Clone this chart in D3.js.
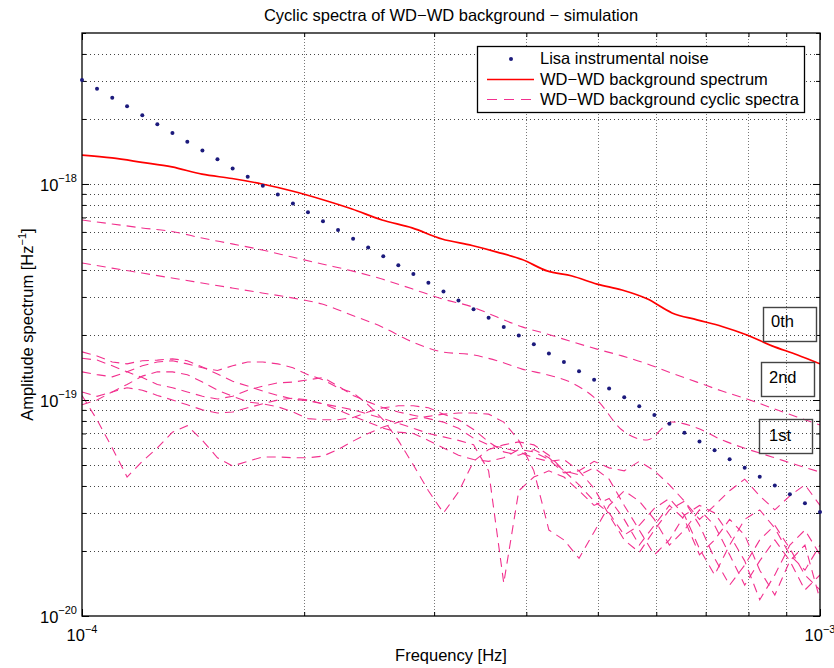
<!DOCTYPE html>
<html><head><meta charset="utf-8">
<script src="https://cdn.jsdelivr.net/npm/d3@7"></script>
<style>
body{margin:0;background:#fff}
text{font-family:"Liberation Sans",Arial,Helvetica,sans-serif;fill:#000}
</style>
</head><body>
<svg id="c" width="834" height="668"></svg>
<script>
// ---------------- data ----------------
const freq = [1.000e-4,1.048e-4,1.099e-4,1.151e-4,1.207e-4,1.265e-4,1.326e-4,1.389e-4,1.456e-4,1.526e-4,
  1.600e-4,1.677e-4,1.758e-4,1.842e-4,1.931e-4,2.024e-4,2.121e-4,2.223e-4,2.330e-4,2.442e-4,
  2.560e-4,2.683e-4,2.812e-4,2.947e-4,3.089e-4,3.237e-4,3.393e-4,3.556e-4,3.728e-4,3.907e-4,
  4.095e-4,4.292e-4,4.498e-4,4.715e-4,4.942e-4,5.179e-4,5.429e-4,5.690e-4,5.964e-4,6.251e-4,
  6.551e-4,6.866e-4,7.197e-4,7.543e-4,7.906e-4,8.286e-4,8.685e-4,9.103e-4,9.541e-4,1.000e-3];
const lisaNoise = [3.03e-18,2.76e-18,2.51e-18,2.29e-18,2.08e-18,1.89e-18,1.72e-18,1.57e-18,1.43e-18,1.30e-18,
  1.18e-18,1.08e-18,9.81e-19,8.93e-19,8.13e-19,7.40e-19,6.73e-19,6.13e-19,5.58e-19,5.08e-19,
  4.63e-19,4.21e-19,3.83e-19,3.49e-19,3.18e-19,2.89e-19,2.63e-19,2.40e-19,2.18e-19,1.99e-19,
  1.81e-19,1.64e-19,1.50e-19,1.36e-19,1.24e-19,1.13e-19,1.03e-19,9.36e-20,8.52e-20,7.76e-20,
  7.06e-20,6.43e-20,5.85e-20,5.32e-20,4.85e-20,4.41e-20,4.02e-20,3.66e-20,3.33e-20,3.03e-20];

const freqSmooth = [1.000e-4,1.098e-4,1.206e-4,1.324e-4,1.454e-4,1.597e-4,1.754e-4,1.926e-4,2.115e-4,2.322e-4,
  2.550e-4,2.801e-4,3.075e-4,3.377e-4,3.651e-4,3.948e-4,4.267e-4,4.613e-4,4.987e-4,5.392e-4,
  5.830e-4,6.302e-4,6.813e-4,7.366e-4,7.963e-4,8.610e-4,9.308e-4,1.000e-3];
const bgSpectrum = [1.36e-18,1.32e-18,1.26e-18,1.20e-18,1.11e-18,1.06e-18,1.00e-18,9.28e-19,8.48e-19,7.66e-19,
  6.81e-19,6.26e-19,5.56e-19,5.19e-19,4.84e-19,4.47e-19,3.96e-19,3.75e-19,3.44e-19,3.23e-19,
  2.94e-19,2.53e-19,2.35e-19,2.19e-19,2.00e-19,1.78e-19,1.62e-19,1.47e-19];
const cyclic0th = [6.81e-19,6.53e-19,6.26e-19,6.03e-19,5.62e-19,5.28e-19,4.95e-19,4.59e-19,4.26e-19,3.96e-19,
  3.63e-19,3.27e-19,2.94e-19,2.70e-19,2.42e-19,2.18e-19,2.02e-19,1.86e-19,1.72e-19,1.60e-19,
  1.47e-19,1.33e-19,1.21e-19,1.10e-19,1.01e-19,9.18e-20,8.34e-20,7.66e-20];
const cyclic2nd = [4.31e-19,4.08e-19,3.87e-19,3.67e-19,3.48e-19,3.30e-19,3.13e-19,2.97e-19,2.78e-19,2.47e-19,
  2.18e-19,1.86e-19,1.67e-19,1.62e-19,1.52e-19,1.39e-19,1.31e-19,1.20e-19,1.00e-19,7.26e-20,
  6.53e-20,7.91e-20,7.42e-20,6.53e-20,5.93e-20,5.45e-20,5.00e-20,4.64e-20];

const cyclic1stA = [1.05e-19,8.1e-20,6.0e-20,4.4e-20,5.2e-20,6.0e-20,7.1e-20,7.6e-20,6.5e-20,5.4e-20,
  4.95e-20,5.2e-20,5.45e-20,5.45e-20,5.4e-20,5.4e-20,5.5e-20,5.9e-20,6.45e-20,7.0e-20,
  7.5e-20,7.9e-20,8.2e-20,8.4e-20,8.6e-20,8.7e-20,8.7e-20,8.6e-20,7.9e-20,6.5e-20,
  4.7e-20,2.5e-20,2.25e-20,1.85e-20,2.45e-20,3.25e-20,3.8e-20,3.4e-20,2.8e-20,2.13e-20,
  2.5e-20,3.1e-20,2.63e-20,1.92e-20,1.39e-20,1.8e-20,2.25e-20,1.8e-20,1.32e-20,1.55e-20];
const cyclic1stB = [1.67e-19,1.6e-19,1.5e-19,1.47e-19,1.52e-19,1.53e-19,1.55e-19,1.52e-19,1.42e-19,1.32e-19,
  1.22e-19,1.16e-19,1.1e-19,1.05e-19,1.01e-19,9.9e-20,9.6e-20,9.3e-20,9.0e-20,8.6e-20,
  8.2e-20,7.8e-20,7.4e-20,7.0e-20,6.75e-20,6.5e-20,6.2e-20,4.7e-20,1.42e-20,3.8e-20,
  4.4e-20,4.7e-20,4.4e-20,3.8e-20,3.25e-20,3.5e-20,2.8e-20,2.13e-20,2.63e-20,3.25e-20,
  2.8e-20,1.92e-20,2.25e-20,2.8e-20,2.37e-20,1.63e-20,1.25e-20,1.8e-20,2.13e-20,1.19e-20];
const cyclic1stC = [1.35e-19,1.31e-19,1.28e-19,1.35e-19,1.44e-19,1.5e-19,1.52e-19,1.47e-19,1.41e-19,1.37e-19,
  1.44e-19,1.5e-19,1.5e-19,1.47e-19,1.41e-19,1.31e-19,1.24e-19,1.14e-19,1.08e-19,9.5e-20,
  8.1e-20,6.5e-20,5.0e-20,3.8e-20,3.0e-20,3.75e-20,5.2e-20,5.9e-20,6.2e-20,6.4e-20,
  6.2e-20,5.55e-20,4.7e-20,4.05e-20,3.4e-20,3.0e-20,2.37e-20,2.63e-20,3.15e-20,3.5e-20,
  2.93e-20,2.05e-20,1.55e-20,2.13e-20,2.8e-20,3.1e-20,2.55e-20,1.92e-20,1.63e-20,2.13e-20];
const cyclic1stD = [1.09e-19,1.04e-19,1.09e-19,1.18e-19,1.29e-19,1.35e-19,1.35e-19,1.31e-19,1.21e-19,1.11e-19,
  1.04e-19,9.8e-20,9.6e-20,9.3e-20,8.8e-20,8.2e-20,8.1e-20,8.1e-20,8.3e-20,8.8e-20,
  9.2e-20,9.4e-20,9.4e-20,9.2e-20,8.6e-20,8.1e-20,7.3e-20,6.4e-20,5.75e-20,5.55e-20,
  5.9e-20,5.4e-20,4.7e-20,4.5e-20,4.85e-20,4.3e-20,3.25e-20,2.5e-20,1.92e-20,2.25e-20,
  2.93e-20,3.25e-20,3.0e-20,2.37e-20,1.8e-20,1.19e-20,1.55e-20,2.13e-20,2.5e-20,1.92e-20];
const cyclic1stE = [1.56e-19,1.53e-19,1.44e-19,1.35e-19,1.27e-19,1.18e-19,1.14e-19,1.09e-19,1.04e-19,1.01e-19,
  1.04e-19,1.11e-19,1.16e-19,1.2e-19,1.21e-19,1.24e-19,1.27e-19,1.16e-19,1.05e-19,9.8e-20,
  9.2e-20,8.8e-20,8.5e-20,8.2e-20,7.9e-20,7.4e-20,6.65e-20,6.2e-20,6.0e-20,5.75e-20,
  5.4e-20,5.2e-20,5.3e-20,4.7e-20,3.9e-20,2.93e-20,2.25e-20,1.97e-20,2.5e-20,3.1e-20,
  3.4e-20,2.63e-20,1.85e-20,1.39e-20,1.72e-20,2.25e-20,2.63e-20,2.05e-20,1.55e-20,1.32e-20];
const cyclic1stF = [9.5e-20,1.0e-19,1.09e-19,1.14e-19,1.11e-19,1.05e-19,1.0e-19,9.5e-20,9.0e-20,8.7e-20,
  8.8e-20,9.2e-20,9.6e-20,1.0e-19,1.02e-19,1.0e-19,9.6e-20,9.0e-20,8.4e-20,7.9e-20,
  7.4e-20,7.1e-20,7.0e-20,6.5e-20,6.0e-20,5.55e-20,5.3e-20,5.2e-20,5.4e-20,5.9e-20,
  5.75e-20,5.3e-20,4.6e-20,4.7e-20,5.2e-20,4.85e-20,4.7e-20,5.2e-20,4.7e-20,4.05e-20,
  3.4e-20,2.8e-20,3.25e-20,3.8e-20,4.3e-20,3.6e-20,3.1e-20,3.6e-20,4.05e-20,3.25e-20];

const xTickValues = [1e-4, 1e-3];
const xTickExponents = ["\u22124", "\u22123"];
const yTickValues = [1e-20, 1e-19, 1e-18];
const yTickExponents = ["\u221220", "\u221219", "\u221218"];
const legendLabels = ["Lisa instrumental noise", "WD\u2212WD background spectrum", "WD\u2212WD background cyclic spectra"];
const orderLabels = ["0th", "2nd", "1st"];
const titleText = "Cyclic spectra of WD\u2212WD background \u2212 simulation";

// ---------------- chart ----------------
const m = {l: 82, r: 820, t: 33, b: 616};
const FS = 16.5;
const svg = d3.select("#c");
const x = d3.scaleLog().domain([1e-4, 1e-3]).range([m.l, m.r]);
const y = d3.scaleLog().domain([1e-20, 5e-18]).range([m.b, m.t]);
const xt = x.ticks(), yt = y.ticks();
const isMajor = v => Math.abs(Math.log10(v) - Math.round(Math.log10(v))) < 1e-6;

svg.append("rect").attr("width", 834).attr("height", 668).attr("fill", "#fff");

// grid
const grid = svg.append("g");
grid.selectAll("line.gv").data(xt.filter(v => v > 1.0001e-4 && v < 0.9999e-3)).join("line")
  .attr("class", "gv")
  .attr("x1", d => Math.round(x(d)) + 0.5).attr("x2", d => Math.round(x(d)) + 0.5)
  .attr("y1", m.t).attr("y2", m.b)
  .attr("stroke", "#777").attr("stroke-width", 1).attr("stroke-dasharray", "1,2");
grid.selectAll("line.gh").data(yt.filter(v => v > 1.0001e-20 && v < 4.999e-18)).join("line")
  .attr("class", "gh")
  .attr("y1", d => Math.round(y(d)) + 0.5).attr("y2", d => Math.round(y(d)) + 0.5)
  .attr("x1", m.l).attr("x2", m.r)
  .attr("stroke", "#444").attr("stroke-width", 1).attr("stroke-dasharray", "1,3");

// clip
svg.append("clipPath").attr("id", "clip").append("rect")
  .attr("x", m.l).attr("y", m.t).attr("width", m.r - m.l).attr("height", m.b - m.t);
const plot = svg.append("g").attr("clip-path", "url(#clip)");

// red background spectrum
const smoothLine = d3.line().x((d, i) => x(freqSmooth[i])).y(d => y(d)).curve(d3.curveMonotoneX);
plot.append("path").datum(bgSpectrum).attr("d", smoothLine)
  .attr("fill", "none").attr("stroke", "#ff0000").attr("stroke-width", 1.7);

// dashed cyclic spectra
const PINK = "#f2308e";
const DASH = "9,6";
[cyclic0th, cyclic2nd].forEach(s => {
  plot.append("path").datum(s).attr("d", smoothLine)
    .attr("fill", "none").attr("stroke", PINK).attr("stroke-width", 1.1).attr("stroke-dasharray", DASH);
});
const fineLine = d3.line().x((d, i) => x(freq[i])).y(d => y(d));
[cyclic1stA, cyclic1stB, cyclic1stC, cyclic1stD, cyclic1stE, cyclic1stF].forEach(s => {
  plot.append("path").datum(s).attr("d", fineLine)
    .attr("fill", "none").attr("stroke", PINK).attr("stroke-width", 1.1).attr("stroke-dasharray", DASH);
});

// axes (inward ticks on all four sides)
function mkAxis(gen, tr, attr, sign) {
  const g = svg.append("g").attr("transform", tr).call(gen);
  g.select(".domain").remove();
  g.selectAll("text").remove();
  g.selectAll(".tick line").attr("stroke", "#000").attr("stroke-width", 1)
    .attr(attr, d => sign * (isMajor(d) ? 7 : 4));
  return g;
}
mkAxis(d3.axisBottom(x).tickValues(xt).tickSizeOuter(0).tickFormat(""), `translate(0,${m.b})`, "y2", -1);
mkAxis(d3.axisTop(x).tickValues(xt).tickSizeOuter(0).tickFormat(""), `translate(0,${m.t})`, "y2", 1);
mkAxis(d3.axisLeft(y).tickValues(yt).tickSizeOuter(0).tickFormat(""), `translate(${m.l},0)`, "x2", 1);
mkAxis(d3.axisRight(y).tickValues(yt).tickSizeOuter(0).tickFormat(""), `translate(${m.r},0)`, "x2", -1);

// box
svg.append("rect").attr("x", m.l).attr("y", m.t).attr("width", m.r - m.l).attr("height", m.b - m.t)
  .attr("fill", "none").attr("stroke", "#000").attr("stroke-width", 1.3);

// Lisa noise dots (not clipped, drawn fully at the plot edges)
svg.append("g").selectAll("circle.noise").data(lisaNoise).join("circle")
  .attr("class", "noise")
  .attr("cx", (d, i) => x(freq[i])).attr("cy", d => y(d)).attr("r", 2)
  .attr("fill", "#1c1a7c");

// tick labels
xTickValues.forEach((v, i) => {
  const t = svg.append("text").attr("x", x(v)).attr("y", 641).attr("text-anchor", "middle").attr("font-size", FS);
  t.append("tspan").text("10");
  t.append("tspan").attr("dy", -8).attr("font-size", 11).text(xTickExponents[i]);
});
yTickValues.forEach((v, i) => {
  const t = svg.append("text").attr("x", 77).attr("y", y(v) + 7).attr("text-anchor", "end").attr("font-size", FS);
  t.append("tspan").text("10");
  t.append("tspan").attr("dy", -9).attr("font-size", 11).text(yTickExponents[i]);
});

// title and axis labels
svg.append("text").attr("x", (m.l + m.r) / 2).attr("y", 21).attr("text-anchor", "middle")
  .attr("font-size", FS).text(titleText);
svg.append("text").attr("x", (m.l + m.r) / 2).attr("y", 661).attr("text-anchor", "middle")
  .attr("font-size", FS).text("Frequency [Hz]");
const yl = svg.append("text").attr("transform", `translate(33,${(m.t + m.b) / 2}) rotate(-90)`)
  .attr("text-anchor", "middle").attr("font-size", FS);
yl.append("tspan").text("Amplitude spectrum [Hz");
yl.append("tspan").attr("dy", -7).attr("font-size", 11).text("\u22121");
yl.append("tspan").attr("dy", 7).text("]");

// legend
const lg = svg.append("g");
lg.append("rect").attr("x", 477.5).attr("y", 46.5).attr("width", 327).attr("height", 66)
  .attr("fill", "#fff").attr("stroke", "#000").attr("stroke-width", 1.3);
const rows = [64, 84.5, 105];
lg.append("circle").attr("cx", 511).attr("cy", 59).attr("r", 2).attr("fill", "#1c1a7c");
lg.append("line").attr("x1", 487).attr("x2", 534).attr("y1", 79.5).attr("y2", 79.5)
  .attr("stroke", "#ff0000").attr("stroke-width", 1.7);
lg.append("line").attr("x1", 487).attr("x2", 531).attr("y1", 99.5).attr("y2", 99.5)
  .attr("stroke", PINK).attr("stroke-width", 1.1).attr("stroke-dasharray", "10,7");
legendLabels.forEach((s, i) => {
  lg.append("text").attr("x", 540).attr("y", rows[i]).attr("font-size", FS).text(s);
});

// order labels in boxes
const boxes = [{x: 763, y: 307, tx: 771, ty: 327}, {x: 761, y: 362, tx: 769, ty: 383}, {x: 759, y: 419, tx: 769, ty: 441}];
orderLabels.forEach((s, i) => {
  const b = boxes[i];
  svg.append("rect").attr("x", b.x + 0.5).attr("y", b.y + 0.5).attr("width", 53).attr("height", 34)
    .attr("fill", "none").attr("stroke", "#444").attr("stroke-width", 1.4);
  svg.append("text").attr("x", b.tx).attr("y", b.ty).attr("font-size", FS).text(s);
});
</script>
</body></html>
